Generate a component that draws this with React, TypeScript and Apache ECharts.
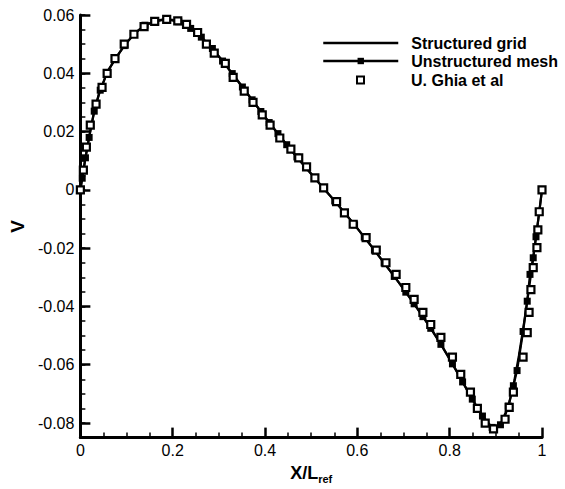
import React, { useEffect, useRef } from "react";
import * as echarts from "echarts";

const FONT = "'Liberation Sans', Arial, Helvetica, sans-serif";

// Structured grid (solid line)
const structuredX = [0, 0.01, 0.02, 0.03, 0.04, 0.05, 0.06, 0.08, 0.1, 0.12, 0.14, 0.16, 0.18, 0.2, 0.22, 0.24, 0.26, 0.28, 0.3, 0.32, 0.34, 0.36, 0.38, 0.4, 0.42, 0.44, 0.46, 0.48, 0.5, 0.52, 0.54, 0.56, 0.58, 0.6, 0.62, 0.64, 0.66, 0.68, 0.7, 0.72, 0.74, 0.76, 0.78, 0.8, 0.82, 0.84, 0.86, 0.88, 0.89, 0.9, 0.91, 0.92, 0.93, 0.94, 0.95, 0.96, 0.97, 0.98, 0.99, 1.0];
const structuredV = [0, 0.010, 0.019, 0.027, 0.033, 0.037, 0.041, 0.046, 0.0505, 0.054, 0.0565, 0.0578, 0.0585, 0.0583, 0.0572, 0.0553, 0.0527, 0.0495, 0.0458, 0.0418, 0.0376, 0.0334, 0.0292, 0.025, 0.0209, 0.0169, 0.013, 0.0092, 0.0055, 0.0018, -0.0018, -0.0055, -0.0093, -0.0132, -0.0172, -0.0213, -0.0255, -0.0297, -0.034, -0.0384, -0.043, -0.0477, -0.0527, -0.058, -0.0636, -0.0693, -0.0749, -0.0797, -0.0812, -0.0818, -0.0806, -0.0776, -0.0725, -0.0655, -0.0568, -0.0468, -0.036, -0.0245, -0.0125, 0];

// Unstructured mesh (line + filled squares)
const unstructuredX = [0, 0.004, 0.011, 0.019, 0.03, 0.043, 0.058, 0.075, 0.095, 0.116, 0.14, 0.163, 0.187, 0.213, 0.239, 0.262, 0.286, 0.308, 0.329, 0.351, 0.372, 0.391, 0.409, 0.428, 0.447, 0.469, 0.488, 0.508, 0.527, 0.551, 0.572, 0.594, 0.615, 0.637, 0.658, 0.68, 0.705, 0.723, 0.742, 0.759, 0.781, 0.806, 0.828, 0.849, 0.871, 0.892, 0.91, 0.927, 0.938, 0.946, 0.959, 0.968, 0.974, 0.981, 0.987, 0.994, 1.0];
const unstructuredV = [0, 0.004, 0.011, 0.018, 0.027, 0.0342, 0.0402, 0.0448, 0.0495, 0.0534, 0.0565, 0.0579, 0.0585, 0.0577, 0.0554, 0.0524, 0.0485, 0.0442, 0.0399, 0.0353, 0.0309, 0.0269, 0.0231, 0.0193, 0.0155, 0.0113, 0.0077, 0.004, 0.0005, -0.0038, -0.0078, -0.012, -0.0162, -0.0207, -0.0251, -0.0297, -0.0351, -0.0391, -0.0435, -0.0475, -0.053, -0.0597, -0.0659, -0.0718, -0.0776, -0.0815, -0.0806, -0.0742, -0.0672, -0.062, -0.0486, -0.0382, -0.0290, -0.0233, -0.0161, -0.0077, 0];

// U. Ghia et al (open squares)
const ghiaX = [0, 0.0065, 0.013, 0.0215, 0.034, 0.047, 0.058, 0.075, 0.095, 0.116, 0.138, 0.161, 0.187, 0.211, 0.23, 0.254, 0.273, 0.29, 0.314, 0.331, 0.355, 0.374, 0.394, 0.411, 0.432, 0.456, 0.473, 0.49, 0.508, 0.527, 0.555, 0.572, 0.591, 0.619, 0.641, 0.662, 0.684, 0.705, 0.723, 0.742, 0.759, 0.781, 0.806, 0.824, 0.845, 0.86, 0.877, 0.895, 0.92, 0.929, 0.938, 0.959, 0.968, 0.972, 0.976, 0.981, 0.989, 0.991, 0.994, 1.0];
const ghiaV = [0, 0.0068, 0.0147, 0.0222, 0.0294, 0.0352, 0.04, 0.045, 0.05, 0.0534, 0.056, 0.0578, 0.0585, 0.058, 0.0568, 0.054, 0.05, 0.0469, 0.0434, 0.0386, 0.0339, 0.03, 0.0257, 0.0222, 0.0178, 0.014, 0.011, 0.0079, 0.0041, 0.0007, -0.004, -0.0079, -0.0118, -0.0164, -0.0207, -0.025, -0.029, -0.0335, -0.0376, -0.042, -0.0462, -0.0506, -0.0574, -0.0633, -0.0694, -0.075, -0.08, -0.082, -0.0787, -0.0746, -0.0694, -0.0574, -0.049, -0.042, -0.0342, -0.0267, -0.0198, -0.0137, -0.0075, 0];

const seriesNames = ["Structured grid", "Unstructured mesh", "U. Ghia et al"];
const xMin = 0, xMax = 1, xInterval = 0.2;
const yMin = -0.085, yMax = 0.06, yMinorStep = 0.005, yMajorStep = 0.02;

const zip = (xs: number[], ys: number[]) => xs.map((x, i) => [x, ys[i]]);

export default function App() {
  const ref = useRef<HTMLDivElement>(null);
  useEffect(() => {
    if (!ref.current) return;
    const chart = echarts.init(ref.current, undefined, { renderer: "svg" });
    const legendText = {
      color: "#000",
      fontSize: 16,
      fontWeight: "bold",
      fontFamily: FONT,
      lineHeight: 16,
      padding: [0, 0, 0, 8],
    };
    const legendBase = {
      orient: "vertical",
      left: 322,
      padding: 0,
      itemWidth: 75,
      itemHeight: 8,
      textStyle: legendText,
      lineStyle: { width: 2.5 },
      selectedMode: false,
      symbolKeepAspect: true,
    };
    const tickLine = (w: number) => ({ color: "#000", width: w, opacity: 1, type: "solid" });
    chart.setOption({
      animation: false,
      backgroundColor: "#fff",
      textStyle: { fontFamily: FONT },
      grid: { show: false, left: 77, right: 23, top: 15, bottom: 50, containLabel: false },
      legend: [
        { ...legendBase, top: 35, data: [{ name: seriesNames[0], itemStyle: { opacity: 0 } }] },
        { ...legendBase, top: 53, data: [{ name: seriesNames[1] }] },
        {
          ...legendBase,
          top: 72,
          itemHeight: 9,
          data: [{ name: seriesNames[2], icon: "path://M0,0L0,0M75,9L75,9M34,1H41V8H34Z" }],
        },
      ],
      xAxis: {
        type: "value",
        min: xMin,
        max: xMax,
        interval: xInterval,
        axisLine: { show: true, onZero: false, lineStyle: tickLine(3) },
        axisTick: { show: true, inside: true, length: 10, lineStyle: tickLine(2.5) },
        minorTick: { show: true, splitNumber: 4, length: 5, lineStyle: tickLine(1.5) },
        splitLine: { show: false },
        minorSplitLine: { show: false },
        axisLabel: {
          color: "#000",
          fontSize: 16,
          fontFamily: FONT,
          margin: 5,
          formatter: (v: number) => String(Math.round(v * 10) / 10),
        },
        name: "{a|X/L}{b|ref}",
        nameLocation: "middle",
        nameGap: 22,
        nameTextStyle: {
          rich: {
            a: { fontSize: 18, fontWeight: "bold", color: "#000", fontFamily: FONT },
            b: { fontSize: 11, fontWeight: "bold", color: "#000", fontFamily: FONT, padding: [12, 0, 0, 0] },
          },
        },
      },
      yAxis: [
        {
          // main axis: minor ticks every 0.005 counted from min (-0.085 = -17 x 0.005)
          type: "value",
          position: "left",
          min: yMin,
          max: yMax,
          interval: yMinorStep,
          axisLine: { show: true, onZero: false, lineStyle: tickLine(3) },
          axisTick: { show: true, inside: true, length: 5, lineStyle: tickLine(1.5) },
          splitLine: { show: false },
          axisLabel: {
            color: "#000",
            fontSize: 16,
            fontFamily: FONT,
            margin: 6,
            formatter: (v: number) => {
              const r = Math.round(v * 1000);
              return r % 20 === 0 ? String(r === 0 ? 0 : r / 1000) : "";
            },
          },
          name: "V",
          nameLocation: "middle",
          nameGap: 50,
          nameTextStyle: { fontSize: 19, fontWeight: "bold", color: "#000", fontFamily: FONT },
        },
        {
          // mirrored helper axis for the major ticks: counted from its min (-0.06) at the top
          type: "value",
          position: "left",
          inverse: true,
          min: -yMax,
          max: -yMin,
          interval: yMajorStep,
          axisLine: { show: false, onZero: false },
          axisTick: { show: true, inside: true, length: 10, lineStyle: tickLine(2.5) },
          axisLabel: { show: false },
          splitLine: { show: false },
        },
      ],
      series: [
        {
          name: seriesNames[0],
          type: "line",
          data: zip(structuredX, structuredV),
          symbol: "none",
          smooth: false,
          lineStyle: { color: "#000", width: 2.2 },
          itemStyle: { color: "#000" },
          z: 2,
        },
        {
          name: seriesNames[1],
          type: "line",
          data: zip(unstructuredX, unstructuredV),
          symbol: "rect",
          symbolSize: 7,
          showSymbol: true,
          showAllSymbol: true,
          lineStyle: { color: "#000", width: 2.2 },
          itemStyle: { color: "#000" },
          z: 3,
        },
        {
          name: seriesNames[2],
          type: "scatter",
          data: zip(ghiaX, ghiaV),
          symbol: "rect",
          symbolSize: 7,
          itemStyle: { color: "#fff", borderColor: "#000", borderWidth: 2.2, opacity: 1 },
          z: 4,
        },
      ],
    });
    return () => chart.dispose();
  }, []);
  return (
    <div
      ref={ref}
      style={{ position: "fixed", left: 0, top: 0, width: 565, height: 489, background: "#fff" }}
    />
  );
}
